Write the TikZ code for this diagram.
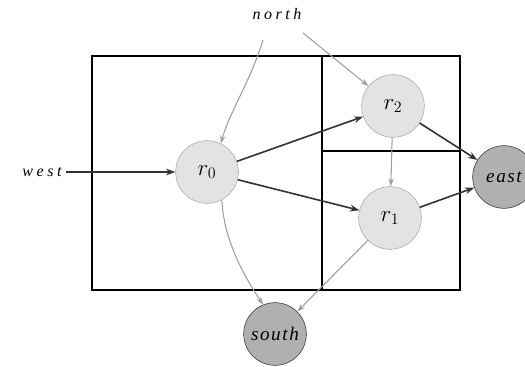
\documentclass[tikz,border=0pt]{standalone}
\usepackage{fontspec}
\usepackage{tikz}
\usetikzlibrary{arrows.meta, positioning}
\newfontfamily\portfont[LetterSpace=22]{Liberation Serif}
\newfontfamily\tightfont[LetterSpace=8]{Liberation Serif}

\begin{document}
\begin{tikzpicture}[
      x=0.75pt, y=-0.75pt,
      every node/.style={inner sep=1pt},
      inner/.style={circle, draw=gray!70, fill=gray!22, minimum size=47pt, font=\LARGE},
      outer/.style={circle, draw=black!80, fill=gray!62, minimum size=47pt, inner sep=0pt, font=\tightfont\itshape\Large},
      port/.style={font=\portfont\itshape\large},
      wire/.style={draw=black!80, line width=1.2pt, -{Stealth[length=7pt, width=5pt]}},
      feed/.style={draw=gray!75, line width=0.8pt, -{Stealth[length=6pt, width=4pt]}},
      wall/.style={draw=black, line width=1.4pt}
    ]
      \useasboundingbox (0,0) rectangle (525,367);

      % partition of the region
      \draw[wall] (92,56) rectangle (460,290);
      \draw[wall] (322,56) -- (322,290);
      \draw[wall] (322,151) -- (460,151);

      \node[inner] (r0) at (207,172) {$r_0$};
      \node[inner] (r2) at (393,106) {$r_2$};
      \node[inner] (r1) at (390,218) {$r_1$};
      \node[outer] (portE) at (504,177) {east};
      \node[outer] (portS) at (275,334) {south};
      \node[port] (portW) at (42,172) {west};
      \node[port] (portN) at (277,14) {north};

      \coordinate (n0) at (263,40);
      \coordinate (n2) at (303,33);
      \coordinate (w0) at (66,172);

      \draw[wire] (w0) -- (r0);
      \draw[wire] (r0) -- (r2);
      \draw[wire] (r0) -- (r1);
      \draw[wire] (r2) -- (portE);
      \draw[wire] (r1) -- (portE);

      \draw[feed] (n0) .. controls +(-12,40) and +(8,-30) .. (r0.64);
      \draw[feed] (n2) -- (r2);
      \draw[feed] (r2) -- (r1);
      \draw[feed] (r1) -- (portS);
      \draw[feed] (r0.-62) .. controls +(2,40) and +(-20,-30) .. (portS.112);
    \end{tikzpicture}
\end{document}
